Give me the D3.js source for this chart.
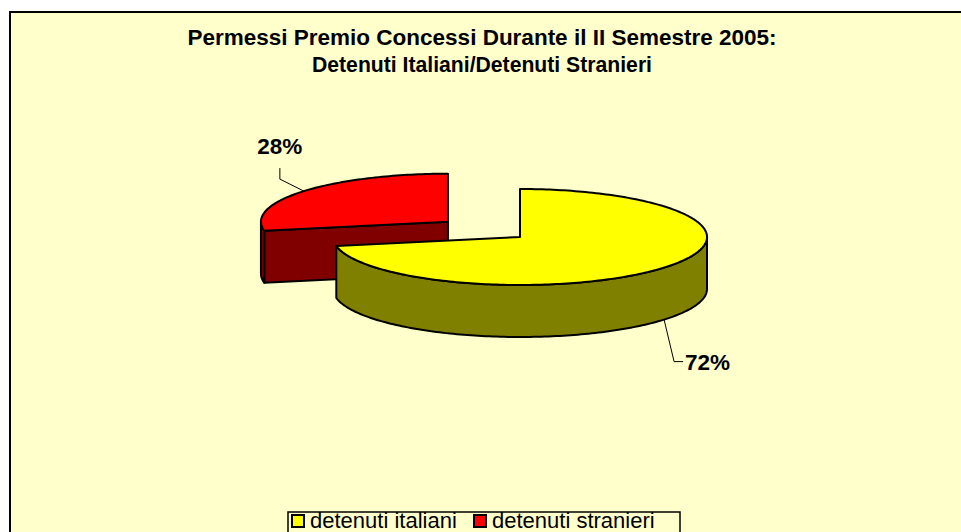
<!DOCTYPE html>
<html>
<head>
<meta charset="utf-8">
<script src="https://cdn.jsdelivr.net/npm/d3@7"></script>
<style>
  body { margin: 0; background: #fff; }
  svg { display: block; font-family: "Liberation Sans", Arial, sans-serif; }
</style>
</head>
<body>
<svg width="961" height="532"></svg>
<script>
const categories = ["detenuti italiani", "detenuti stranieri"];
const values = [72, 28];
const labels = ["72%", "28%"];
const topColors = ["#FFFF00", "#FF0000"];
const sideColors = ["#808000", "#800000"];
const explode = [0, 0.5];
const titleLines = ["Permessi Premio Concessi Durante il II Semestre 2005:", "Detenuti Italiani/Detenuti Stranieri"];

document.addEventListener("DOMContentLoaded", function() {
    const svg = d3.select("svg");

    // chart area (right and bottom edges run off the picture)
    svg.append("rect")
        .attr("x", 10).attr("y", 12)
        .attr("width", 1000).attr("height", 600)
        .attr("fill", "#FFFFCC")
        .attr("stroke", "#000").attr("stroke-width", 2);

    svg.append("g").selectAll("text")
        .data(titleLines)
        .enter().append("text")
        .attr("x", 482)
        .attr("y", (d, i) => 45 + i * 27)
        .attr("text-anchor", "middle")
        .attr("font-size", 21.5)
        .attr("font-weight", "bold")
        .attr("textLength", (d, i) => [589, 340][i])
        .attr("lengthAdjust", "spacingAndGlyphs")
        .text(d => d);

    // 3D pie geometry
    const cx = 520, cy = 237, rx = 187, ry = 48, depth = 52;
    const pie = d3.pie().sort(null).value(d => d);
    const arcs = pie(values).map((a, i) => {
        const mid = (a.startAngle + a.endAngle) / 2;
        return Object.assign(a, {
            i: i,
            mid: mid,
            ox: cx + explode[i] * rx * Math.sin(mid),
            oy: cy - explode[i] * ry * Math.cos(mid)
        });
    });

    const pt = (a, ang, dy = 0) => [a.ox + rx * Math.sin(ang), a.oy - ry * Math.cos(ang) + dy];
    const line = d3.line();
    const arcPts = (a, a0, a1, dy = 0) => {
        const n = Math.max(2, Math.ceil(Math.abs(a1 - a0) / 0.02));
        return d3.range(n + 1).map(k => pt(a, a0 + (a1 - a0) * k / n, dy));
    };

    const g = svg.append("g")
        .attr("stroke", "#000")
        .attr("stroke-width", 2)
        .attr("stroke-linejoin", "round");

    // back slices first
    arcs.slice().sort((p, q) => p.oy - q.oy).forEach(a => {
        const sg = g.append("g");
        // cut faces facing the viewer
        [[a.startAngle, a.startAngle - Math.PI / 2], [a.endAngle, a.endAngle + Math.PI / 2]].forEach(([ang, n]) => {
            if (Math.cos(n) < -1e-6) {
                const c = [a.ox, a.oy], r = pt(a, ang);
                sg.append("path")
                    .attr("d", line([c, r, [r[0], r[1] + depth], [c[0], c[1] + depth]]) + "Z")
                    .attr("fill", sideColors[a.i]);
            }
        });
        // outer wall, visible between 90 and 270 degrees
        const s = Math.max(a.startAngle, Math.PI / 2), e = Math.min(a.endAngle, 3 * Math.PI / 2);
        if (e > s) {
            const pts = arcPts(a, s, e).concat(arcPts(a, e, s, depth));
            sg.append("path")
                .attr("d", line(pts) + "Z")
                .attr("fill", sideColors[a.i]);
        }
        // top face
        sg.append("path")
            .attr("d", line([[a.ox, a.oy]].concat(arcPts(a, a.startAngle, a.endAngle))) + "Z")
            .attr("fill", topColors[a.i]);
    });

    // data labels with leader lines
    const labelPos = [
        {dy: depth, pts: [[10, 42], [19, 42]], tx: 21, ty: 50, anchor: "start"},
        {dy: 0, pts: [[-24, -12], [-24, -23]], tx: -24, ty: -37, anchor: "middle"}
    ];
    arcs.forEach(a => {
        const lp = labelPos[a.i];
        const p = pt(a, a.mid, lp.dy);
        svg.append("path")
            .attr("d", line([p].concat(lp.pts.map(q => [p[0] + q[0], p[1] + q[1]]))))
            .attr("fill", "none")
            .attr("stroke", "#000")
            .attr("stroke-width", 1);
        svg.append("text")
            .attr("x", p[0] + lp.tx)
            .attr("y", p[1] + lp.ty)
            .attr("text-anchor", lp.anchor)
            .attr("font-size", 22.5)
            .attr("font-weight", "bold")
            .text(labels[a.i]);
    });

    // legend
    const legend = svg.append("g").attr("transform", "translate(288,512)");
    legend.append("rect")
        .attr("width", 392).attr("height", 40)
        .attr("fill", "#FFFFCC")
        .attr("stroke", "#000").attr("stroke-width", 1.5);
    const item = legend.selectAll(".item")
        .data(categories)
        .enter().append("g")
        .attr("class", "item")
        .attr("transform", (d, i) => `translate(${[4, 186][i]},0)`);
    item.append("rect")
        .attr("y", 3).attr("width", 12).attr("height", 12)
        .attr("fill", (d, i) => topColors[i])
        .attr("stroke", "#000").attr("stroke-width", 2);
    item.append("text")
        .attr("x", 18).attr("y", 16)
        .attr("font-size", 22)
        .text(d => d);
});
</script>
</body>
</html>
